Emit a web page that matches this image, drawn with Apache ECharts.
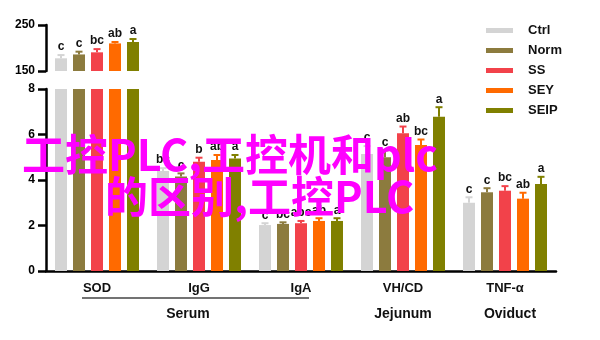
<!DOCTYPE html>
<html><head><meta charset="utf-8">
<script src="https://cdn.jsdelivr.net/npm/echarts/dist/echarts.min.js"></script>
<style>html,body{margin:0;padding:0;background:#fff}#c{width:600px;height:340px}</style>
</head><body><div id="c"></div>
<script>
// ---- data ----
const categories = ['SOD', 'IgG', 'IgA', 'VH/CD', 'TNF-α'];
const seriesNames = ['Ctrl', 'Norm', 'SS', 'SEY', 'SEIP'];
const ctrl = [177.6, 4.40, 2.02, 5.14, 3.00];
const norm = [186.0, 4.15, 2.07, 5.00, 3.46];
const ss   = [190.6, 4.80, 2.10, 6.05, 3.53];
const sey  = [210.0, 4.88, 2.20, 5.54, 3.18];
const seip = [213.0, 4.95, 2.20, 6.78, 3.82];
const ctrlErr = [7, 0.12, 0.08, 0.35, 0.24];
const normErr = [6, 0.14, 0.07, 0.30, 0.18];
const ssErr   = [7, 0.18, 0.10, 0.30, 0.20];
const seyErr  = [3, 0.22, 0.12, 0.24, 0.26];
const seipErr = [6.5, 0.15, 0.12, 0.42, 0.32];
const ctrlSig = ['c', 'bc', 'c', 'c', 'c'];
const normSig = ['c', 'c', 'bc', 'c', 'c'];
const ssSig   = ['bc', 'b', 'abc', 'ab', 'bc'];
const seySig  = ['ab', 'ab', 'ab', 'bc', 'ab'];
const seipSig = ['a', 'a', 'a', 'a', 'a'];
const groupNames = ['Serum', 'Jejunum', 'Oviduct'];
const topRange = [150, 250];
const bottomRange = [0, 8];
const overlayLines = ['工控PLC,工控机和plc', '的区别,工控PLC'];

// ---- styling ----
const colors = ['#d4d4d4', '#8c7b3e', '#f2424a', '#ff6a00', '#808000'];
const values = [ctrl, norm, ss, sey, seip];
const errs = [ctrlErr, normErr, ssErr, seyErr, seipErr];
const sigs = [ctrlSig, normSig, ssSig, seySig, seipSig];
const FONT = '"Liberation Sans", Arial, sans-serif';
const BAR_W = 12, PITCH = 18;

const chart = echarts.init(document.getElementById('c'), null, {renderer: 'canvas'});

function axisStyle(gridIndex, min, max, interval) {
  return {
    type: 'value', gridIndex: gridIndex, min: min, max: max, interval: interval,
    axisLine: {show: true, lineStyle: {color: '#000', width: 2.5}},
    axisTick: {show: true, length: 8, lineStyle: {color: '#000', width: 2.5}},
    axisLabel: {margin: 11, color: '#000', fontWeight: 'bold', fontSize: 12, fontFamily: FONT},
    splitLine: {show: false}
  };
}

function errRender(si, panel) {
  return function (params, api) {
    const cat = api.value(0), v = api.value(1), e = api.value(2);
    if (panel === 'top' && !(v > bottomRange[1])) return null;
    if (panel === 'bottom' && v > bottomRange[1]) return null;
    const c = api.coord([cat, v]);
    const t = api.coord([cat, v + e]);
    const x = c[0] + (si - 2) * PITCH;
    const col = colors[si];
    return {
      type: 'group',
      children: [
        {type: 'line', shape: {x1: x, y1: c[1], x2: x, y2: t[1]}, style: {stroke: col, lineWidth: 2}},
        {type: 'line', shape: {x1: x - 3.5, y1: t[1], x2: x + 3.5, y2: t[1]}, style: {stroke: col, lineWidth: 2}},
        {type: 'text', x: x, y: t[1] - 2,
          style: {text: sigs[si][params.dataIndex], align: 'center', verticalAlign: 'bottom',
            font: 'bold 12px ' + FONT, fill: '#111'}}
      ]
    };
  };
}

const series = [];
seriesNames.forEach(function (name, si) {
  series.push({
    name: name, type: 'bar', xAxisIndex: 0, yAxisIndex: 0,
    barWidth: BAR_W, barGap: '50%',
    itemStyle: {color: colors[si]},
    data: values[si].map(function (v) { return v > bottomRange[1] ? v : '-'; })
  });
  series.push({
    name: name, type: 'bar', xAxisIndex: 1, yAxisIndex: 1,
    barWidth: BAR_W, barGap: '50%', clip: true,
    itemStyle: {color: colors[si]},
    data: values[si].slice()
  });
});
seriesNames.forEach(function (name, si) {
  ['top', 'bottom'].forEach(function (panel, pi) {
    series.push({
      name: 'err_' + name + '_' + panel, type: 'custom', xAxisIndex: pi, yAxisIndex: pi, z: 5,
      renderItem: errRender(si, panel),
      data: values[si].map(function (v, i) { return [i, v, errs[si][i]]; })
    });
  });
});

chart.setOption({
  animation: false,
  backgroundColor: '#fff',
  grid: [
    {left: 46, right: 44, top: 25, height: 46},
    {left: 46, right: 44, top: 89, height: 182}
  ],
  legend: {
    data: seriesNames, orient: 'vertical', left: 486, top: 24, padding: 0,
    itemWidth: 27, itemHeight: 5, itemGap: 7, icon: 'rect',
    textStyle: {fontFamily: FONT, fontWeight: 'bold', fontSize: 13, color: '#111', padding: [0, 0, 0, 10]}
  },
  xAxis: [
    {type: 'category', gridIndex: 0, data: categories, show: false},
    {type: 'category', gridIndex: 1, data: categories,
      axisLine: {lineStyle: {color: '#000', width: 2.5}},
      axisTick: {alignWithLabel: true, length: 5, lineStyle: {color: '#000', width: 2}},
      axisLabel: {margin: 11, color: '#111', fontWeight: 'bold', fontSize: 13, fontFamily: FONT}}
  ],
  yAxis: [
    axisStyle(0, topRange[0], topRange[1], topRange[1] - topRange[0]),
    axisStyle(1, bottomRange[0], bottomRange[1], 2)
  ],
  series: series
});

// group annotations under the category axis
const cx = categories.map(function (c, i) { return chart.convertToPixel({xAxisIndex: 1}, i); });
const gFont = {fontFamily: FONT, fontWeight: 'bold', fontSize: 14, fill: '#111'};
const oFont = {fontFamily: '"Noto Sans CJK SC", sans-serif', fontWeight: 'bold', fontSize: 43, fill: '#ff00ff'};
chart.setOption({
  graphic: [
    {type: 'line', shape: {x1: cx[0] - 15, y1: 298, x2: cx[2] + 8, y2: 298}, style: {stroke: '#444', lineWidth: 1.5}},
    {type: 'text', x: cx[1] - 11, y: 314, style: Object.assign({text: groupNames[0], align: 'center', verticalAlign: 'middle'}, gFont)},
    {type: 'text', x: cx[3], y: 314, style: Object.assign({text: groupNames[1], align: 'center', verticalAlign: 'middle'}, gFont)},
    {type: 'text', x: cx[4] + 5, y: 314, style: Object.assign({text: groupNames[2], align: 'center', verticalAlign: 'middle'}, gFont)},
    {type: 'text', x: 22, y: 155, z: 100, style: Object.assign({text: overlayLines[0], align: 'left', verticalAlign: 'middle'}, oFont)},
    {type: 'text', x: 105, y: 197, z: 100, style: Object.assign({text: overlayLines[1], align: 'left', verticalAlign: 'middle'}, oFont)}
  ]
});
</script>
</body></html>
